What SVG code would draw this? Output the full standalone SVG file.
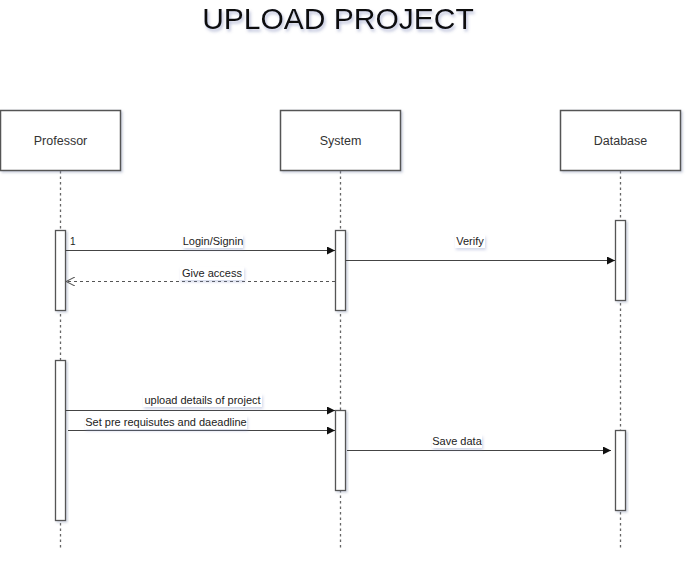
<svg xmlns="http://www.w3.org/2000/svg" width="692" height="563" viewBox="0 0 692 563">
<defs>
<style>
.box{fill:#fff;stroke:#555;stroke-width:1.5;filter:url(#sh)}
.bar{fill:#fff;stroke:#555;stroke-width:1.3;filter:url(#sh)}
.life{stroke:#666;stroke-width:1.3;stroke-dasharray:2.5 3;fill:none}
.msg{stroke:#444;stroke-width:1.2;fill:none}
.ret{stroke:#555;stroke-width:1.2;fill:none;stroke-dasharray:3 3}
.nt{font-family:"Liberation Sans",Arial,sans-serif;font-size:12.5px;fill:#333;text-anchor:middle}
.lt{font-family:"Liberation Sans",Arial,sans-serif;font-size:11px;fill:#222;text-anchor:middle}
.lbg{fill:#fff;filter:url(#lsh)}
</style>
<filter id="sh" x="-20%" y="-20%" width="150%" height="150%">
<feDropShadow dx="1.5" dy="1.5" stdDeviation="1.2" flood-color="#8a94b0" flood-opacity="0.45"/>
</filter>
<filter id="lsh" x="-20%" y="-40%" width="140%" height="200%">
<feDropShadow dx="1" dy="2" stdDeviation="1.5" flood-color="#7d8cc0" flood-opacity="0.35"/>
</filter>
<filter id="tsh" x="-10%" y="-30%" width="120%" height="170%">
<feDropShadow dx="1.5" dy="2.5" stdDeviation="1.5" flood-color="#6070a8" flood-opacity="0.45"/>
</filter>
<marker id="fill" viewBox="0 0 10 10" refX="10" refY="5" markerWidth="8" markerHeight="8" markerUnits="userSpaceOnUse" orient="auto">
<path d="M0,0 L10,5 L0,10 Z" fill="#111"/>
</marker>
<marker id="open" viewBox="0 0 10 10" refX="10" refY="5" markerWidth="9" markerHeight="9" markerUnits="userSpaceOnUse" orient="auto">
<path d="M0,0 L10,5 L0,10" fill="none" stroke="#555" stroke-width="1.2"/>
</marker>
</defs>
<rect width="692" height="563" fill="#fff"/>
<text x="338" y="29" font-family="Liberation Sans,Arial,sans-serif" font-size="30" fill="#111" text-anchor="middle" filter="url(#tsh)">UPLOAD PROJECT</text>

<g id="lifelines">
<line class="life" x1="60.5" y1="171" x2="60.5" y2="550"/>
<line class="life" x1="340.5" y1="171" x2="340.5" y2="550"/>
<line class="life" x1="620.5" y1="171" x2="620.5" y2="550"/>
</g>

<g id="professor">
<rect class="box" x="0.5" y="110.5" width="120" height="60"/>
<text class="nt" x="60.5" y="144.5">Professor</text>
</g>
<g id="system">
<rect class="box" x="280.5" y="110.5" width="120" height="60"/>
<text class="nt" x="340.5" y="144.5">System</text>
</g>
<g id="database">
<rect class="box" x="560.5" y="110.5" width="120" height="60"/>
<text class="nt" x="620.5" y="144.5">Database</text>
</g>

<g id="activations">
<rect id="prof-act1" class="bar" x="55.5" y="230.5" width="10" height="80"/>
<rect id="prof-act2" class="bar" x="55.5" y="360.5" width="10" height="160"/>
<rect id="sys-act1" class="bar" x="335.5" y="230.5" width="10" height="80"/>
<rect id="sys-act2" class="bar" x="335.5" y="410.5" width="10" height="80"/>
<rect id="db-act1" class="bar" x="615.5" y="220.5" width="10" height="80"/>
<rect id="db-act2" class="bar" x="615.5" y="430.5" width="10" height="80"/>
</g>

<g id="connectors">
<line class="msg" x1="65.5" y1="250.5" x2="335" y2="250.5" marker-end="url(#fill)"/>
<line class="msg" x1="345.5" y1="260.5" x2="615" y2="260.5" marker-end="url(#fill)"/>
<line class="ret" x1="335" y1="281.5" x2="66" y2="281.5" marker-end="url(#open)"/>
<line class="msg" x1="65.5" y1="410.5" x2="335" y2="410.5" marker-end="url(#fill)"/>
<line class="msg" x1="68" y1="430.5" x2="335" y2="430.5" marker-end="url(#fill)"/>
<line class="msg" x1="347" y1="450.5" x2="611" y2="450.5" marker-end="url(#fill)"/>
</g>

<g id="labels">
<text x="70" y="245" font-family="Liberation Sans,Arial,sans-serif" font-size="10" fill="#222">1</text>
<rect class="lbg" x="183" y="235" width="60" height="13"/>
<text class="lt" x="213" y="245">Login/Signin</text>
<rect class="lbg" x="455" y="235" width="30" height="13"/>
<text class="lt" x="470" y="245">Verify</text>
<rect class="lbg" x="180" y="267" width="64" height="13"/>
<text class="lt" x="212" y="277">Give access</text>
<rect class="lbg" x="143" y="394" width="119" height="13"/>
<text class="lt" x="202.5" y="404">upload details of project</text>
<rect class="lbg" x="85" y="416" width="162" height="13"/>
<text class="lt" x="166" y="426">Set pre requisutes and daeadline</text>
<rect class="lbg" x="432" y="435" width="50" height="13"/>
<text class="lt" x="457" y="445">Save data</text>
</g>
</svg>
